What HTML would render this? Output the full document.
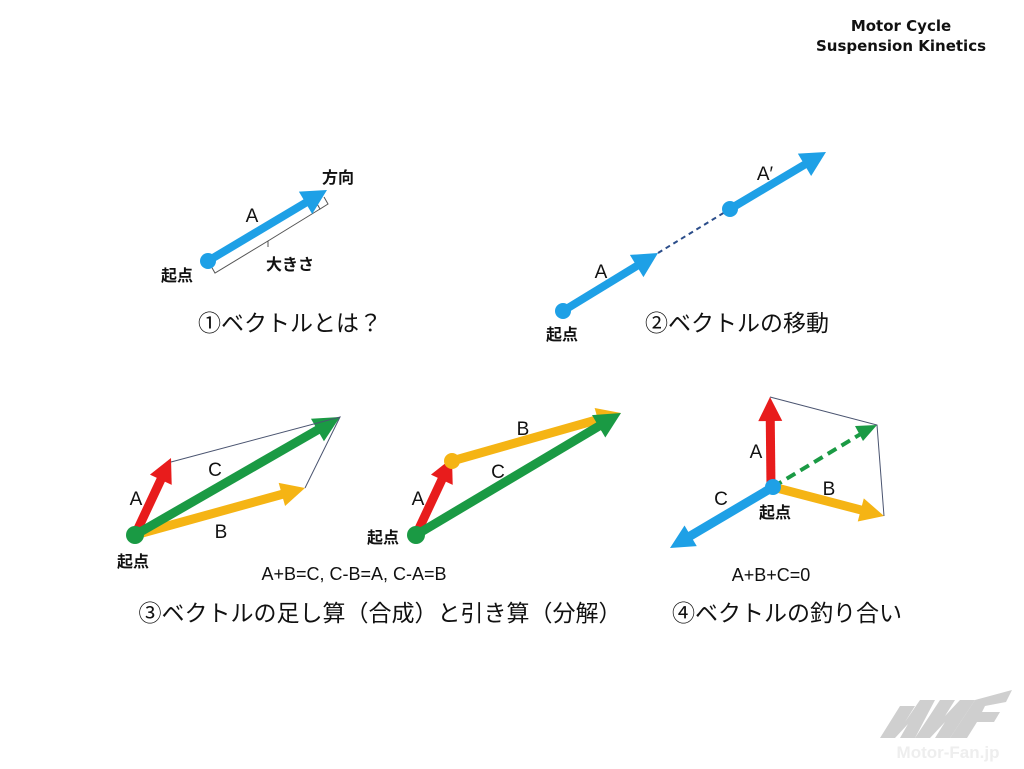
<!DOCTYPE html>
<html><head><meta charset="utf-8">
<style>
html,body{margin:0;padding:0;background:#fff;}
svg{display:block;}
text{font-family:"Liberation Sans","Noto Sans CJK JP",sans-serif;fill:#111;}
.b{font-weight:bold;}
</style></head>
<body>
<svg id="s" width="1024" height="769" viewBox="0 0 1024 769" xmlns="http://www.w3.org/2000/svg">
<text x="901" y="31" text-anchor="middle" class="b" font-size="15" style="font-family:'DejaVu Sans',sans-serif">Motor Cycle</text>
<text x="901" y="51" text-anchor="middle" class="b" font-size="15" style="font-family:'DejaVu Sans',sans-serif">Suspension Kinetics</text>

<polyline points="211,266 215,273 268,241 268,247 268,241 320,209 316,202 320,209 328,204 324,197" fill="none" stroke="#555" stroke-width="1"/>
<g id="arrows"></g>
<polyline points="171,462 340,417 305,488" fill="none" stroke="#4a5470" stroke-width="1"/>
<polyline points="770,397 877,425 884,516" fill="none" stroke="#4a5470" stroke-width="1"/>
<line x1="658" y1="253" x2="730" y2="209" stroke="#2b4d8a" stroke-width="2" stroke-dasharray="5,4"/>
<line x1="773" y1="487" x2="864" y2="432" stroke="#1a9a44" stroke-width="4" stroke-dasharray="10,6"/>
<polygon points="877,425 855,426 863,441" fill="#1a9a44"/>

<circle cx="208" cy="261" r="8" fill="#1ea0e6"/>
<circle cx="563" cy="311" r="8" fill="#1ea0e6"/>
<circle cx="730" cy="209" r="8" fill="#1ea0e6"/>
<circle cx="135" cy="535" r="9" fill="#1a9a44"/>
<circle cx="452" cy="461" r="8" fill="#f5b414"/>
<circle cx="416" cy="535" r="9" fill="#1a9a44"/>
<circle cx="773" cy="487" r="8" fill="#1ea0e6"/>

<text x="252" y="222" text-anchor="middle" font-size="19">A</text>
<text x="338" y="183" text-anchor="middle" class="b" font-size="16">方向</text>
<text x="290" y="270" text-anchor="middle" class="b" font-size="16">大きさ</text>
<text x="177" y="281" text-anchor="middle" class="b" font-size="16">起点</text>
<text x="290" y="331" text-anchor="middle" font-size="23">①ベクトルとは？</text>

<text x="601" y="278" text-anchor="middle" font-size="19">A</text>
<text x="765" y="180" text-anchor="middle" font-size="19">A′</text>
<text x="562" y="340" text-anchor="middle" class="b" font-size="16">起点</text>
<text x="737" y="331" text-anchor="middle" font-size="23">②ベクトルの移動</text>

<text x="136" y="505" text-anchor="middle" font-size="19">A</text>
<text x="215" y="476" text-anchor="middle" font-size="19">C</text>
<text x="221" y="538" text-anchor="middle" font-size="19">B</text>
<text x="133" y="567" text-anchor="middle" class="b" font-size="16">起点</text>
<text x="418" y="505" text-anchor="middle" font-size="19">A</text>
<text x="523" y="435" text-anchor="middle" font-size="19">B</text>
<text x="498" y="478" text-anchor="middle" font-size="19">C</text>
<text x="383" y="543" text-anchor="middle" class="b" font-size="16">起点</text>
<text x="354" y="580" text-anchor="middle" font-size="18">A+B=C, C-B=A, C-A=B</text>
<text x="380" y="621" text-anchor="middle" font-size="23">③ベクトルの足し算（合成）と引き算（分解）</text>

<text x="756" y="458" text-anchor="middle" font-size="19">A</text>
<text x="829" y="495" text-anchor="middle" font-size="19">B</text>
<text x="721" y="505" text-anchor="middle" font-size="19">C</text>
<text x="775" y="518" text-anchor="middle" class="b" font-size="16">起点</text>
<text x="771" y="581" text-anchor="middle" font-size="18">A+B+C=0</text>
<text x="787" y="621" text-anchor="middle" font-size="23">④ベクトルの釣り合い</text>

<g fill="#cfcfcf">
<polygon points="880,738 900,706 915,706 905,722 920,700 935,700 915,738 900,738 908,724 895,738"/>
<polygon points="915,738 940,700 955,700 945,716 960,700 975,700 950,738 935,738 945,722 930,738"/>
<polygon points="950,738 975,700 1012,690 1006,702 985,706 982,712 1000,712 994,722 977,722 967,738"/>
</g>
<text x="948" y="758" text-anchor="middle" font-size="17" style="fill:#eeeeee" class="b">Motor-Fan.jp</text>
</svg>
<script>
var g=document.getElementById('arrows');
function ar(x1,y1,x2,y2,c,w,hl,hw){
 var dx=x2-x1,dy=y2-y1,L=Math.hypot(dx,dy),ux=dx/L,uy=dy/L,px=-uy,py=ux;
 var bx=x2-ux*hl,by=y2-uy*hl;
 var ln=document.createElementNS('http://www.w3.org/2000/svg','line');
 ln.setAttribute('x1',x1);ln.setAttribute('y1',y1);ln.setAttribute('x2',bx+ux*2);ln.setAttribute('y2',by+uy*2);
 ln.setAttribute('stroke',c);ln.setAttribute('stroke-width',w);g.appendChild(ln);
 var p=document.createElementNS('http://www.w3.org/2000/svg','polygon');
 p.setAttribute('points',x2+','+y2+' '+(bx+px*hw)+','+(by+py*hw)+' '+(bx-px*hw)+','+(by-py*hw));
 p.setAttribute('fill',c);g.appendChild(p);
}
var BL='#1ea0e6',RD='#e81c1c',GR='#1a9a44',OR='#f5b414';
ar(208,261,327,190,BL,8,25,13);
ar(563,311,658,253,BL,8,25,13);
ar(730,209,826,152,BL,8,25,13);
ar(135,535,305,488,OR,9,24,12);
ar(135,535,171,458,RD,9,24,12);
ar(135,535,340,417,GR,9,26,13);
ar(452,461,621,413,OR,9,24,12);
ar(416,535,452,458,RD,9,24,12);
ar(416,535,621,413,GR,9,26,13);
ar(773,487,884,516,OR,9,24,12);
ar(773,487,670,548,BL,9,24,12);
ar(771,487,770,397,RD,9,24,12);
</script>
</body></html>
